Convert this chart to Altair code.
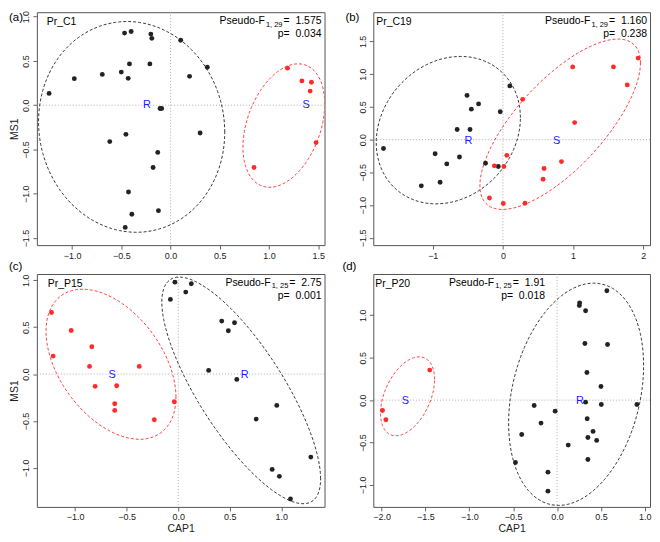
import altair as alt
import numpy as np
import pandas as pd

FONT = "Liberation Sans"
NB = "\u00a0"

# ---------------- data ----------------
# (a) Pr_C1
a_R_x = [-1.233, -0.977, -0.693, -0.500, -0.467, -0.400, -0.417, -0.430, -0.200, -0.190, -0.210, 0.103, 0.193,
         0.373, -0.107, -0.090, -0.617, -0.453, 0.300, -0.130, -0.177, -0.427, -0.393, -0.123, -0.460]
a_R_y = [0.133, 0.300, 0.348, 0.374, 0.814, 0.832, 0.466, 0.303, 0.803, 0.755, 0.466, 0.733, 0.326,
         0.429, -0.037, -0.037, -0.411, -0.329, -0.314, -0.533, -0.703, -0.980, -1.232, -1.191, -1.380]
a_S_x = [1.187, 1.333, 1.430, 1.417, 1.477, 0.847]
a_S_y = [0.418, 0.274, 0.259, 0.159, -0.422, -0.703]
a_centroids = [["R", -0.24, 0.0], ["S", 1.377, 0.0]]
a_ell_R = [-0.395, -0.245, 0.945, 1.19, -0.05]   # centre x, centre y, half-width, half-height, tilt
a_ell_S = [1.15, -0.23, 0.415, 0.697, 0.35]

# (b) Pr_C19
b_R_x = [-1.702, -1.163, -0.966, -0.895, -0.800, -0.652, -0.619, -0.511, -0.469, -0.450, -0.347, -0.248, -0.066,
         -0.038, 0.098]
b_R_y = [-0.135, -0.705, -0.215, -0.650, -0.370, 0.155, -0.265, 0.675, 0.155, 0.465, 0.545, -0.360, -0.410,
         0.425, 0.820]
b_S_x = [-0.192, -0.122, 0.005, 0.014, 0.056, 0.281, 0.314, 0.572, 0.586, 0.834, 0.994, 1.022, 1.575, 1.772, 1.927]
b_S_y = [-0.890, -0.400, -0.975, -0.410, -0.240, 0.615, -0.970, -0.605, -0.440, -0.335, 1.110, 0.260, 1.110, 0.835,
         1.245]
b_centroids = [["R", -0.49, -0.02], ["S", 0.764, -0.02]]
b_ell_R = [-0.778, 0.145, 1.027, 1.125, 0.17]
b_ell_S = [0.816, 0.235, 1.144, 1.30, 0.72]

# (c) Pr_P15
c_R_x = [-0.076, -0.032, 0.073, 0.127, 0.422, 0.486, 0.546, 0.295, 0.568, 0.756, 0.956, 1.286, 0.911, 0.981, 1.089]
c_R_y = [0.796, 0.980, 0.874, 0.963, 0.565, 0.462, 0.547, 0.039, -0.057, -0.480, -0.334, -0.885, -1.016, -1.090,
         -1.332]
c_S_x = [-1.229, -1.213, -1.038, -0.838, -0.860, -0.806, -0.378, -0.597, -0.616, -0.616, -0.038, -0.232]
c_S_y = [0.657, 0.192, 0.465, 0.291, 0.082, -0.131, 0.082, -0.124, -0.316, -0.387, -0.295, -0.487]
c_centroids = [["R", 0.644, -0.01], ["S", -0.641, -0.01]]
c_ell_R = [0.611, -0.174, 0.77, 1.208, -0.78]
c_ell_S = [-0.652, 0.105, 0.63, 0.80, -0.44]

# (d) Pr_P20
d_R_x = [-0.474, -0.403, -0.261, -0.183, -0.104, -0.104, -0.022, 0.127, 0.257, 0.254, 0.325, 0.317, 0.340, 0.325,
         0.343, 0.351, 0.351, 0.410, 0.451, 0.500, 0.504, 0.567, 0.575, 0.910]
d_R_y = [-0.735, -0.405, -0.063, -0.271, -0.849, -1.073, -0.130, -0.530, 1.147, 1.116, 1.053, 0.668, 0.326, -0.024,
         -0.220, -0.440, -0.700, -0.369, -0.475, 0.161, -0.051, 1.289, 0.656, -0.051]
d_S_x = [-1.989, -1.951, -1.451]
d_S_y = [-0.122, -0.232, 0.354]
d_centroids = [["S", -1.728, -0.01], ["R", 0.261, -0.01]]
d_ell_R = [0.217, 0.069, 0.769, 1.31, 0.26]
d_ell_S = [-1.704, 0.045, 0.308, 0.465, 0.43]

panel_letters = ["(a)", "(b)", "(c)", "(d)"]
panel_names = ["Pr_C1", "Pr_C19", "Pr_P15", "Pr_P20"]
F_df = ["1, 29", "1, 29", "1, 25", "1, 25"]
F_vals = ["1.575", "1.160", "2.75", "1.91"]
p_vals = ["0.034", "0.238", "0.001", "0.018"]

x_ticks_a = [-1.0, -0.5, 0.0, 0.5, 1.0, 1.5]
y_ticks_a = [-1.5, -1.0, -0.5, 0.0, 0.5, 1.0]
x_ticks_b = [-1, 0, 1, 2]
y_ticks_b = [-1.5, -1.0, -0.5, 0.0, 0.5, 1.0, 1.5]
x_ticks_c = [-1.0, -0.5, 0.0, 0.5, 1.0]
y_ticks_c = [-1.0, -0.5, 0.0, 0.5, 1.0]
x_ticks_d = [-2.0, -1.5, -1.0, -0.5, 0.0, 0.5, 1.0]
y_ticks_d = [-1.0, -0.5, 0.0, 0.5, 1.0]

# ---------------- helpers ----------------
ARIAL = {c: 556 for c in "0123456789"}
ARIAL.update({".": 278, ",": 278, " ": 278, NB: 278, "=": 584, "p": 556})
FS_MAIN, FS_SUB = 10.5, 7.5


def tw(s, fs):
    return sum(ARIAL.get(ch, 556) for ch in s) * fs / 1000.0


def ellipse_df(p, g):
    cx, cy, w, h, rho = p
    t = np.linspace(0, 2 * np.pi, 145)
    phi = np.arccos(rho)
    return pd.DataFrame({"x": cx + w * np.cos(t), "y": cy + h * np.cos(t - phi), "o": np.arange(len(t)), "g": g})


def txt(s, x, y, fs, align="left", color="black", baseline="alphabetic"):
    return alt.Chart(pd.DataFrame({"t": [s]})).mark_text(
        align=align, baseline=baseline, fontSize=fs, font=FONT, color=color
    ).encode(x=alt.value(x), y=alt.value(y), text="t:N")


def panel(i, Rx, Ry, Sx, Sy, cents, ellR, ellS, xdom, ydom, xt, yt, xfmt, yfmt, w, h,
          stat_right, name_x, letter_x, letter_y, xtitle, ytitle):
    xs = alt.Scale(domain=xdom, nice=False, zero=False)
    ys = alt.Scale(domain=ydom, nice=False, zero=False)
    xaxis = alt.Axis(values=xt, format=xfmt, title=xtitle if xtitle else None)
    yaxis = alt.Axis(values=yt, format=yfmt, title=ytitle if ytitle else None)

    def X(f="x"):
        return alt.X(f + ":Q", scale=xs, axis=xaxis)

    def Y(f="y"):
        return alt.Y(f + ":Q", scale=ys, axis=yaxis)

    pts = pd.concat([
        pd.DataFrame({"x": Rx, "y": Ry, "g": "R"}),
        pd.DataFrame({"x": Sx, "y": Sy, "g": "S"}),
    ])
    ell = pd.concat([ellipse_df(ellR, "R"), ellipse_df(ellS, "S")])
    cen = pd.DataFrame(cents, columns=["lab", "x", "y"])
    colr = alt.Color("g:N", scale=alt.Scale(domain=["R", "S"], range=["#222222", "#ff2a2a"]), legend=None)
    colp = alt.Color("g:N", scale=alt.Scale(domain=["R", "S"], range=["#000000", "#ff0000"]), legend=None)

    zero = pd.DataFrame({"v": [0.0]})
    vrule = alt.Chart(zero).mark_rule(color="#9a9a9a", strokeDash=[1, 2], strokeWidth=0.8).encode(
        x=alt.X("v:Q", scale=xs, axis=xaxis))
    hrule = alt.Chart(zero).mark_rule(color="#9a9a9a", strokeDash=[1, 2], strokeWidth=0.8).encode(
        y=alt.Y("v:Q", scale=ys, axis=yaxis))
    ell_l = alt.Chart(ell).mark_line(strokeDash=[3, 2], strokeWidth=0.9, clip=True).encode(
        x=X(), y=Y(), color=colr, detail="g:N", order="o:Q")
    pt_l = alt.Chart(pts).mark_circle(size=24, opacity=1).encode(x=X(), y=Y(), color=colp)
    cen_l = alt.Chart(cen).mark_text(fontSize=11, font=FONT, color="#1a1aff", baseline="middle").encode(
        x=X(), y=Y(), text="lab:N")

    eq = "=" + NB + NB + F_vals[i]
    w_eq = tw(eq, FS_MAIN)
    w_sub = tw(F_df[i], FS_SUB)
    layers = [vrule, hrule, ell_l, pt_l, cen_l,
              txt(panel_names[i], name_x, 13, 10.5),
              txt(eq, stat_right, 12, FS_MAIN, "right"),
              txt(F_df[i], stat_right - w_eq - 1, 14.5, FS_SUB, "right"),
              txt("Pseudo-F", stat_right - w_eq - w_sub - 2, 12, FS_MAIN, "right"),
              txt("p=" + NB + NB + p_vals[i], stat_right, 25, FS_MAIN, "right"),
              txt(panel_letters[i], letter_x, letter_y, 11.5)]
    return alt.layer(*layers).properties(width=w, height=h)


W1, W2, H1, H2 = 289, 278, 234, 234

pa = panel(0, a_R_x, a_R_y, a_S_x, a_S_y, a_centroids, a_ell_R, a_ell_S,
           [-1.357, 1.563], [-1.58, 1.05], x_ticks_a, y_ticks_a, ".1f", ".1f", W1, H1,
           W1 - 3, 10, -28, 9, "", "MS1")
pb = panel(1, b_R_x, b_R_y, b_S_x, b_S_y, b_centroids, b_ell_R, b_ell_S,
           [-1.847, 2.096], [-1.61, 1.945], x_ticks_b, y_ticks_b, "d", ".1f", W2, H1,
           W2 - 3, 3, -28, 9, "", "")
pc = panel(2, c_R_x, c_R_y, c_S_x, c_S_y, c_centroids, c_ell_R, c_ell_S,
           [-1.371, 1.419], [-1.416, 1.067], x_ticks_c, y_ticks_c, ".1f", ".1f", W1, H2,
           W1 - 3, 11, -28, -4, "CAP1", "MS1")
pd_ = panel(3, d_R_x, d_R_y, d_S_x, d_S_y, d_centroids, d_ell_R, d_ell_S,
            [-2.094, 1.059], [-1.259, 1.487], x_ticks_d, y_ticks_d, ".1f", ".1f", W2, H2,
            172.5, 2, -31, -4, "CAP1", "")

chart = alt.concat(pa, pb, pc, pd_, columns=2, spacing={"row": 29, "column": 49}, bounds="flush").properties(
    padding=0
).configure(font=FONT).configure_view(
    stroke="#555555", strokeWidth=1
).configure_axis(
    grid=False, domain=False, tickColor="#555555", tickSize=4, tickWidth=0.9,
    labelFont=FONT, labelFontSize=9, labelColor="#222222", labelPadding=2,
    labelFlush=False, labelOverlap=False,
    titleFont=FONT, titleFontSize=10.5, titleFontWeight="normal", titleColor="#222222"
).configure_axisY(
    labelAngle=-90, labelAlign="center", labelBaseline="bottom", titlePadding=2
).configure_axisX(
    labelPadding=2, titlePadding=2
)

chart.save("out.html", embed_options={"renderer": "svg", "actions": False})
